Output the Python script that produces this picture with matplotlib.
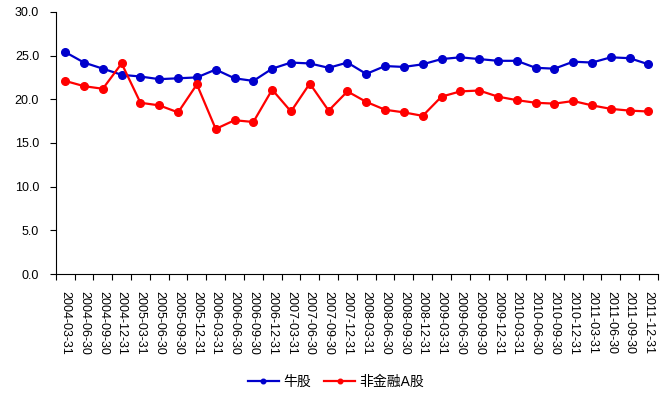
import matplotlib
matplotlib.use('Agg')
import matplotlib.pyplot as plt
import numpy as np

plt.rcParams['font.family'] = ['Liberation Sans', 'Noto Sans CJK SC', 'DejaVu Sans']

dates = ['2004-03-31', '2004-06-30', '2004-09-30', '2004-12-31',
         '2005-03-31', '2005-06-30', '2005-09-30', '2005-12-31',
         '2006-03-31', '2006-06-30', '2006-09-30', '2006-12-31',
         '2007-03-31', '2007-06-30', '2007-09-30', '2007-12-31',
         '2008-03-31', '2008-06-30', '2008-09-30', '2008-12-31',
         '2009-03-31', '2009-06-30', '2009-09-30', '2009-12-31',
         '2010-03-31', '2010-06-30', '2010-09-30', '2010-12-31',
         '2011-03-31', '2011-06-30', '2011-09-30', '2011-12-31']

bull = [25.4, 24.2, 23.5, 22.8, 22.6, 22.3, 22.4, 22.5,
        23.4, 22.4, 22.1, 23.5, 24.2, 24.1, 23.6, 24.2,
        22.9, 23.8, 23.7, 24.0, 24.6, 24.8, 24.6, 24.4,
        24.4, 23.6, 23.5, 24.3, 24.2, 24.8, 24.7, 24.0]

nonfin = [22.1, 21.5, 21.2, 24.1, 19.6, 19.3, 18.5, 21.7,
          16.6, 17.6, 17.4, 21.1, 18.6, 21.8, 18.7, 20.9,
          19.7, 18.8, 18.5, 18.1, 20.3, 20.9, 21.0, 20.3,
          19.9, 19.6, 19.5, 19.8, 19.3, 18.9, 18.7, 18.6]

x = np.arange(len(dates))

fig = plt.figure(figsize=(6.72, 3.96), dpi=100)
ax = fig.add_axes([0.083, 0.308, 0.896, 0.662])

ax.plot(x, bull, color='#0000CC', marker='o', markersize=5.5, linewidth=1.6, label='牛股')
ax.plot(x, nonfin, color='#FF0000', marker='o', markersize=5.5, linewidth=1.6, label='非金融A股')

ax.set_xlim(-0.5, len(dates) - 0.5)
ax.set_ylim(0, 30)
ax.set_yticks(np.arange(0, 30.1, 5))
ax.set_yticklabels(['%.1f' % v for v in np.arange(0, 30.1, 5)], fontsize=9)

ax.set_xticks(np.arange(-0.5, len(dates), 1))
ax.set_xticklabels([])
ax.set_xticks(x, minor=True)
ax.set_xticklabels(dates, minor=True, rotation=270, fontsize=9)
ax.tick_params(axis='x', which='major', direction='out', length=4, width=0.8)
ax.tick_params(axis='x', which='minor', length=0, pad=12)
ax.tick_params(axis='y', direction='out', length=4, width=0.8, pad=8)

ax.spines['top'].set_visible(False)
ax.spines['right'].set_visible(False)

fig.legend(loc='center', bbox_to_anchor=(0.5, 0.035), ncol=2, frameon=False,
           fontsize=10, handlelength=2.2, columnspacing=1.0, handletextpad=0.3,
           markerscale=0.6)

fig.savefig('out.png', dpi=100)
